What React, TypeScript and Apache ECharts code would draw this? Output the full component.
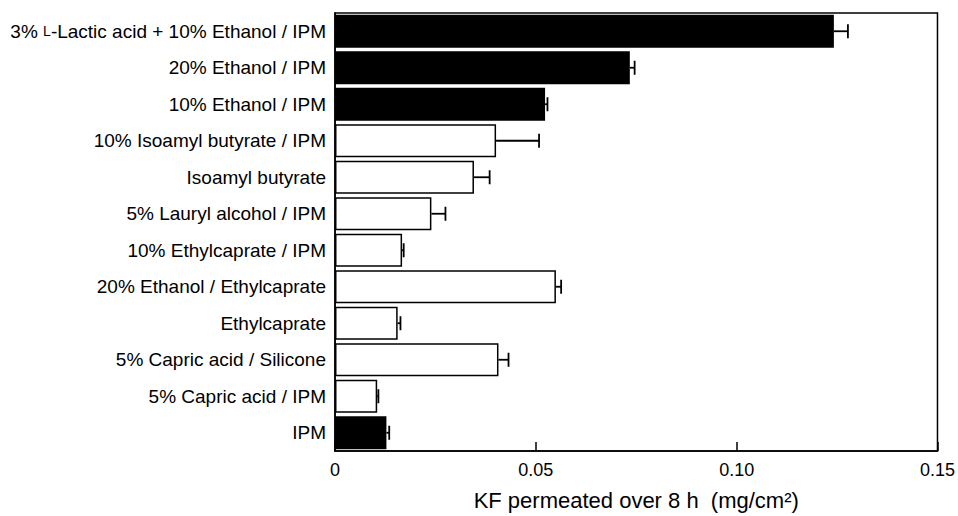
import React, { useEffect, useRef } from "react";
import * as echarts from "echarts";

const categories = [
  "3% L-Lactic acid + 10% Ethanol / IPM",
  "20% Ethanol / IPM",
  "10% Ethanol / IPM",
  "10% Isoamyl butyrate / IPM",
  "Isoamyl butyrate",
  "5% Lauryl alcohol / IPM",
  "10% Ethylcaprate / IPM",
  "20% Ethanol / Ethylcaprate",
  "Ethylcaprate",
  "5% Capric acid / Silicone",
  "5% Capric acid / IPM",
  "IPM",
];
const values = [0.1242, 0.0734, 0.0523, 0.0401, 0.0346, 0.024, 0.0167, 0.055, 0.0156, 0.0407, 0.0105, 0.0128];
const errors = [0.0035, 0.0012, 0.0006, 0.0107, 0.0039, 0.0035, 0.0004, 0.0013, 0.0007, 0.0025, 0.0003, 0.0007];
const filled = [true, true, true, false, false, false, false, false, false, false, false, true];
const xTickLabels: Record<string, string> = { "0": "0", "0.05": "0.05", "0.1": "0.10", "0.15": "0.15" };

const FONT = "'Liberation Sans', Arial, Helvetica, sans-serif";

export default function App() {
  const ref = useRef<HTMLDivElement>(null);
  useEffect(() => {
    if (!ref.current) return;
    const chart = echarts.init(ref.current, undefined, { renderer: "svg" });
    chart.setOption({
      animation: false,
      backgroundColor: "#fff",
      grid: {
        left: 335,
        right: 18,
        top: 13,
        bottom: 54,
        show: true,
        borderColor: "#000",
        borderWidth: 1.5,
        backgroundColor: "transparent",
      },
      xAxis: {
        type: "value",
        min: 0,
        max: 0.15,
        interval: 0.05,
        name: "KF permeated over 8 h  (mg/cm²)",
        nameLocation: "middle",
        nameGap: 38,
        nameTextStyle: { fontFamily: FONT, fontSize: 22, color: "#000" },
        axisLine: { show: true, lineStyle: { color: "#000", width: 1.5 } },
        axisTick: { show: true, inside: true, length: 9, lineStyle: { color: "#000", width: 1.5 } },
        axisLabel: {
          fontFamily: FONT,
          fontSize: 18,
          color: "#000",
          margin: 10,
          formatter: (v: number) => xTickLabels[String(+v.toFixed(4))] ?? String(v),
        },
        splitLine: { show: false },
      },
      yAxis: {
        type: "category",
        data: categories,
        inverse: true,
        axisLine: { show: true, lineStyle: { color: "#000", width: 1.5 } },
        axisTick: { show: false },
        axisLabel: {
          fontFamily: FONT,
          fontSize: 19,
          color: "#000",
          margin: 9,
          formatter: (s: string) => s.replace("L-Lactic", "{sc|L}-Lactic"),
          rich: {
            sc: { fontFamily: FONT, fontSize: 14, color: "#000" },
          },
        },
        splitLine: { show: false },
      },
      series: [
        {
          type: "bar",
          barCategoryGap: "9%",
          data: values.map((v, i) => ({
            value: v,
            itemStyle: {
              color: filled[i] ? "#000" : "#fff",
              borderColor: "#000",
              borderWidth: 1.5,
            },
          })),
          z: 2,
        },
        {
          type: "custom",
          data: values.map((v, i) => [v, i, errors[i]]),
          encode: { x: 0, y: 1 },
          z: 3,
          renderItem: (params: any, api: any) => {
            const v = api.value(0);
            const i = api.value(1);
            const e = api.value(2);
            const p0 = api.coord([v, i]);
            const p1 = api.coord([v + e, i]);
            const h = 7;
            const style = { stroke: "#000", lineWidth: 1.8 };
            return {
              type: "group",
              children: [
                { type: "line", shape: { x1: p0[0], y1: p0[1], x2: p1[0], y2: p1[1] }, style },
                { type: "line", shape: { x1: p1[0], y1: p1[1] - h, x2: p1[0], y2: p1[1] + h }, style },
              ],
            };
          },
        },
      ],
    });
    return () => chart.dispose();
  }, []);
  return <div ref={ref} style={{ width: 958, height: 516, position: "absolute", left: 0, top: 0 }} />;
}
